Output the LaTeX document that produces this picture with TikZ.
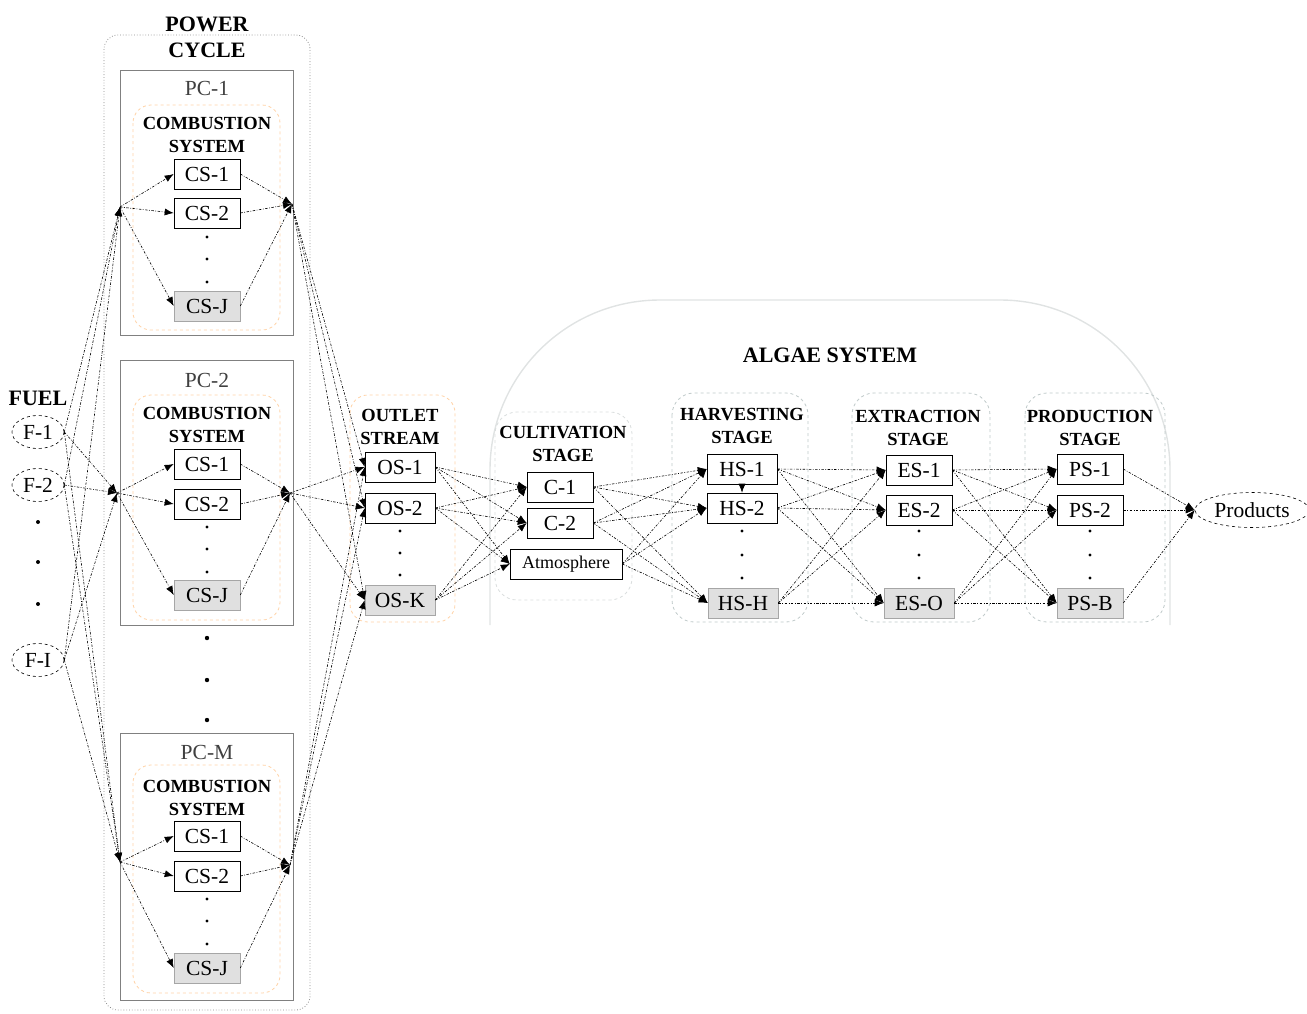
\documentclass[tikz,border=0pt]{standalone}
\usepackage{fontspec}
\setmainfont{Liberation Serif}
\usetikzlibrary{arrows.meta,shapes.geometric}
\newcommand{\unitfont}{\fontsize{21.5}{23}\selectfont}
\newcommand{\headfont}{\fontsize{18.5}{23}\selectfont\bfseries}
\newcommand{\bigfont}{\fontsize{22}{26}\selectfont\bfseries}

\begin{document}
\begin{tikzpicture}[x=1pt, y=-1pt,
        unit/.style={draw, rectangle, fill=white, line width=0.6pt, minimum width=66pt, minimum height=30pt, inner sep=1pt, font=\unitfont},
        lastunit/.style={unit, fill=black!12, draw=black!35},
        source/.style={draw, ellipse, dashed, fill=white, line width=0.6pt, minimum width=52pt, minimum height=33pt, inner sep=0pt, font=\unitfont},
        head/.style={align=center, inner sep=0pt, font=\headfont},
        bighead/.style={align=center, inner sep=0pt, font=\bigfont},
        flow/.style={line width=0.6pt, dash pattern=on 2.5pt off 1.5pt on 0.8pt off 1.5pt, -{Latex[length=9pt,width=7pt]}},
        pcbound/.style={draw=black!45, dotted, line width=0.8pt, rounded corners=14pt},
        pcframe/.style={draw=black!50, line width=0.8pt},
        csbound/.style={draw=orange!35, dashed, line width=0.8pt, rounded corners=18pt},
        stagebound/.style={draw=teal!30!black!25, dashed, line width=0.8pt, rounded corners=22pt},
        algbound/.style={draw=teal!20!black!12, line width=1.4pt, rounded corners=170pt},
    ]
    \useasboundingbox (0,0) rectangle (1307,1013);

    % frames behind everything
    \draw[pcbound] (104,35) rectangle (310,1010);
    \draw[pcframe] (120,70) rectangle (293,335);
    \draw[pcframe] (120,360) rectangle (293,625);
    \draw[pcframe] (120,733) rectangle (293,1000);
    \draw[csbound] (133,105) rectangle (280,330);
    \draw[csbound] (133,395) rectangle (280,620);
    \draw[csbound] (133,765) rectangle (280,993);
    \draw[csbound] (350,395) rectangle (455,622);
    \draw[algbound] (490,625) -- (490,300) -- (1170,300) -- (1170,625);
    \draw[stagebound, draw=teal!20!black!15] (495,412) rectangle (632,600);
    \draw[stagebound] (672,393) rectangle (808,622);
    \draw[stagebound] (852,393) rectangle (990,622);
    \draw[stagebound] (1025,393) rectangle (1165,622);

    % fuels
    \node[bighead] (fueltitle) at (38,398) {FUEL};
    \node[source] (f1) at (38,432) {F-1};
    \node[source] (f2) at (38,485) {F-2};
    \node[source] (fi) at (38,660) {F-I};
    \foreach \y in {522,562,604}
        \fill (38,\y) circle (2pt);

    % power cycles
    \node[bighead] (pctitle) at (207,37) {POWER\\CYCLE};
    \node[font=\unitfont, text=black!75] (pa) at (207,88) {PC-1};
    \node[font=\unitfont, text=black!75] (pb) at (207,380) {PC-2};
    \node[font=\unitfont, text=black!75] (pm) at (207,752) {PC-M};
    \node[head] (pa-head) at (207,135) {COMBUSTION\\SYSTEM};
    \node[head] (pb-head) at (207,425) {COMBUSTION\\SYSTEM};
    \node[head] (pm-head) at (207,798) {COMBUSTION\\SYSTEM};

    \node[unit] (pa-cs1) at (207,174) {CS-1};
    \node[unit] (pa-cs2) at (207,213) {CS-2};
    \node[lastunit] (pa-csj) at (207,306) {CS-J};
    \node[unit] (pb-cs1) at (207,464) {CS-1};
    \node[unit] (pb-cs2) at (207,504) {CS-2};
    \node[lastunit] (pb-csj) at (207,595) {CS-J};
    \node[unit] (pm-cs1) at (207,836) {CS-1};
    \node[unit] (pm-cs2) at (207,876) {CS-2};
    \node[lastunit] (pm-csj) at (207,968) {CS-J};
    \foreach \y in {237,259,282, 527,549,572, 899,921,944}
        \fill (207,\y) circle (1.6pt);
    \foreach \y in {638,680,720}
        \fill (207,\y) circle (2.2pt);

    \coordinate (pa-in) at (120,207);
    \coordinate (pb-in) at (117,493);
    \coordinate (pm-in) at (120,862);
    \coordinate (pa-out) at (292,204);
    \coordinate (pb-out) at (290,493);
    \coordinate (pm-out) at (290,865);

    % outlet streams
    \node[head] (ostitle) at (400,427) {OUTLET\\STREAM};
    \node[unit, minimum width=70pt] (os1) at (400,467) {OS-1};
    \node[unit, minimum width=70pt] (os2) at (400,508) {OS-2};
    \node[lastunit, minimum width=70pt] (osk) at (400,600) {OS-K};
    \foreach \y in {531,553,575}
        \fill (400,\y) circle (1.6pt);

    % algae system
    \node[bighead] (algtitle) at (830,355) {ALGAE SYSTEM};
    \node[head] (cultitle) at (563,444) {CULTIVATION\\STAGE};
    \node[unit] (c1) at (560,487) {C-1};
    \node[unit] (c2) at (560,523) {C-2};
    \node[unit, font=\fontsize{18}{20}\selectfont, minimum width=112pt] (atm) at (566,564) {Atmosphere};

    \node[head] (hstitle) at (742,426) {HARVESTING\\STAGE};
    \node[unit, minimum width=70pt] (hs1) at (742,469) {HS-1};
    \node[unit, minimum width=70pt] (hs2) at (742,508) {HS-2};
    \node[lastunit, minimum width=70pt] (hsh) at (743,603) {HS-H};
    \node[head] (estitle) at (918,428) {EXTRACTION\\STAGE};
    \node[unit, minimum width=66pt] (es1) at (919,470) {ES-1};
    \node[unit, minimum width=66pt] (es2) at (919,510) {ES-2};
    \node[lastunit, minimum width=70pt] (eso) at (919,603) {ES-O};
    \node[head] (pstitle) at (1090,428) {PRODUCTION\\STAGE};
    \node[unit] (ps1) at (1090,469) {PS-1};
    \node[unit] (ps2) at (1090,510) {PS-2};
    \node[lastunit] (psb) at (1090,603) {PS-B};
    \foreach \x in {742,919,1090}
        \foreach \y in {531,555,578}
            \fill (\x,\y) circle (1.6pt);
    \node[source, minimum width=114pt, minimum height=35pt] (prod) at (1252,510) {Products};

    % fuel to every power cycle
    \foreach \f in {f1,f2,fi}
        \foreach \p in {pa,pb,pm}
            \draw[flow] (\f.east) -- (\p-in);
    % combustion systems and outlet streams
    \foreach \p in {pa,pb,pm}{
        \foreach \c in {cs1,cs2,csj}{
            \draw[flow] (\p-in) -- (\p-\c.west);
            \draw[flow] (\p-\c.east) -- (\p-out);
        }
        \foreach \o in {os1,os2,osk}
            \draw[flow] (\p-out) -- (\o.west);
    }
    \foreach \o in {os1,os2,osk}
        \foreach \c in {c1,c2,atm}
            \draw[flow] (\o.east) -- (\c.west);
    \foreach \c in {c1,c2,atm}
        \foreach \h in {hs1,hs2,hsh}
            \draw[flow] (\c.east) -- (\h.west);
    \draw[flow] (hs1) -- (hs2);
    \foreach \h in {hs1,hs2,hsh}
        \foreach \e in {es1,es2,eso}
            \draw[flow] (\h.east) -- (\e.west);
    \foreach \e in {es1,es2,eso}
        \foreach \s in {ps1,ps2,psb}
            \draw[flow] (\e.east) -- (\s.west);
    \foreach \s in {ps1,ps2,psb}
        \draw[flow] (\s.east) -- (prod.west);
\end{tikzpicture}
\end{document}
